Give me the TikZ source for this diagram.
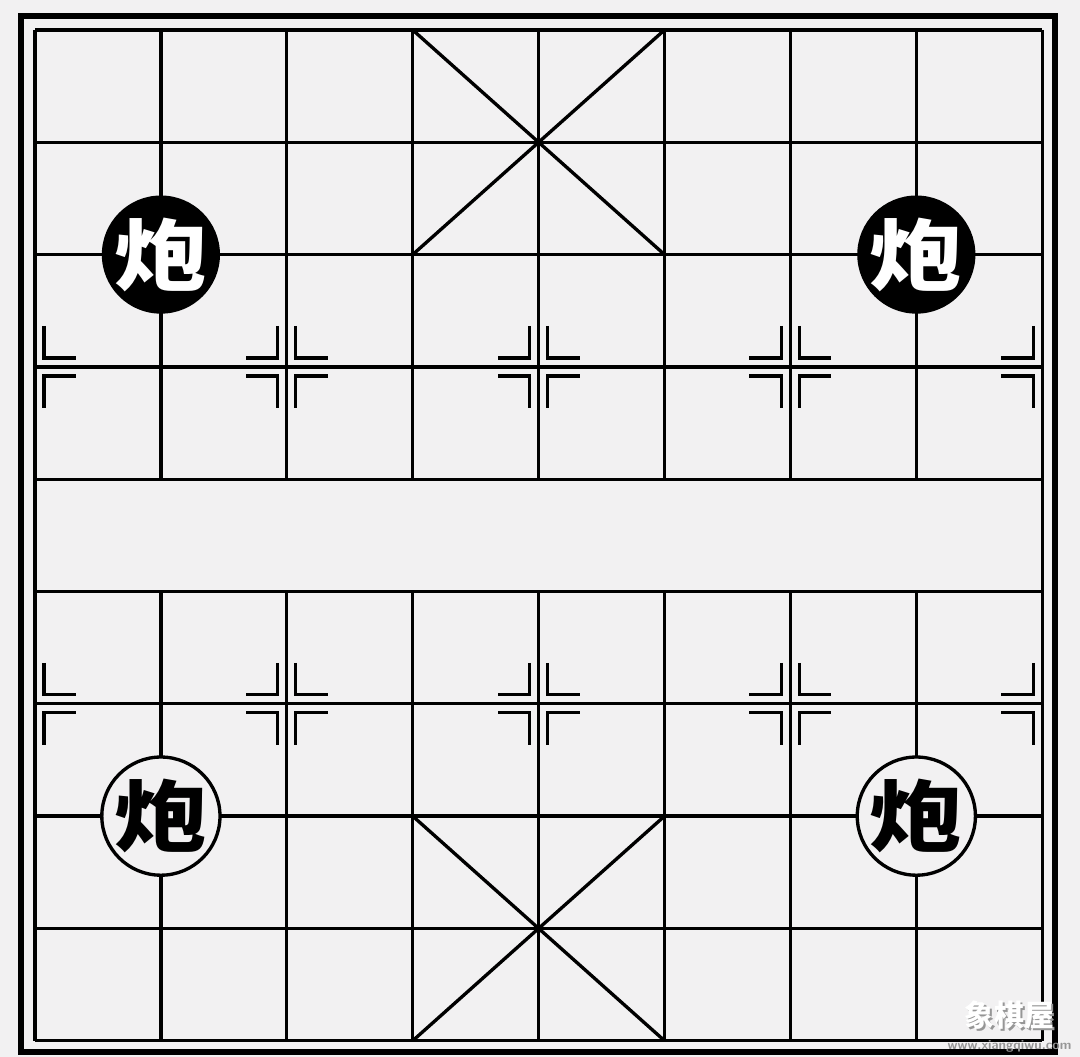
\documentclass[tikz,border=0pt]{standalone}
\usepackage{fontspec}
\usetikzlibrary{positioning}
\newfontfamily\cjk{Noto Sans CJK SC}
\newfontfamily\cjkwide[FakeStretch=1.2]{Noto Sans CJK SC}
\definecolor{board-bg}{RGB}{242,241,242}
\definecolor{wm-shade}{RGB}{150,150,150}

\begin{document}
\begin{tikzpicture}[x=1.259cm, y=-1.123cm]
    \path[use as bounding box, fill=board-bg] (-0.278, -0.267) rectangle (8.300, 9.145);

    \tikzset{ ln/.style ={line width=0.95pt} }
    \tikzset{ mk/.style ={line width=0.95pt} }
    \tikzset{ pb/.style ={circle, fill=black, text=white, minimum size=1.15cm, inner sep=0pt, font=\cjkwide\bfseries\fontsize{22}{22}\selectfont} }
    \tikzset{ pw/.style ={circle, draw, line width=0.95pt, fill=board-bg, text=black, minimum size=1.08cm, inner sep=0pt, font=\cjkwide\bfseries\fontsize{22}{22}\selectfont} }

    % frame
    \draw[line width=1.8pt] (-0.111, -0.125) rectangle (8.102, 9.100);

    % grid
    \foreach \r in {0,...,9} \draw[ln] (0,\r) -- (8,\r);
    \draw[ln] (0,0) -- (0,9);
    \draw[ln] (8,0) -- (8,9);
    \foreach \c in {1,...,7} {
        \draw[ln] (\c,0) -- (\c,4);
        \draw[ln] (\c,5) -- (\c,9);
    }

    % palaces
    \draw[ln] (3,0) -- (5,2);
    \draw[ln] (5,0) -- (3,2);
    \draw[ln] (3,7) -- (5,9);
    \draw[ln] (5,7) -- (3,9);

    % point marks
    \foreach \r in {3,6} {
        \foreach \c in {2,4,6} \foreach \sx in {-1,1} \foreach \sy in {-1,1}
            \draw[mk] (\c,\r) ++(\sx*0.09cm, \sy*0.41cm) -- ++(0, \sy*-0.32cm) -- ++(\sx*0.32cm, 0);
        \foreach \sy in {-1,1}
            \draw[mk] (0,\r) ++(0.09cm, \sy*0.41cm) -- ++(0, \sy*-0.32cm) -- ++(0.32cm, 0);
        \foreach \sy in {-1,1}
            \draw[mk] (8,\r) ++(-0.09cm, \sy*0.41cm) -- ++(0, \sy*-0.32cm) -- ++(-0.32cm, 0);
    }

    % cannons
    \node[pb] (pao-b1) at (1,2) {炮};
    \node[pb] (pao-b2) at (7,2) {炮};
    \node[pw] (pao-w1) at (1,7) {炮};
    \node[pw] (pao-w2) at (7,7) {炮};

    % watermark
    \node[text=wm-shade, font=\cjk\bfseries\fontsize{8.5}{8.5}\selectfont] at ([shift={(0.02cm,-0.02cm)}] 7.74, 8.77) {象棋屋};
    \node[text=white, font=\cjk\bfseries\fontsize{8.5}{8.5}\selectfont] (wm) at (7.74, 8.77) {象棋屋};
    \node[below=-0.02cm of wm, text=wm-shade, font=\sffamily\bfseries\fontsize{3.8}{3.8}\selectfont, inner sep=0pt] (wm-url) {www.xiangqiwu.com};

\end{tikzpicture}
\end{document}
